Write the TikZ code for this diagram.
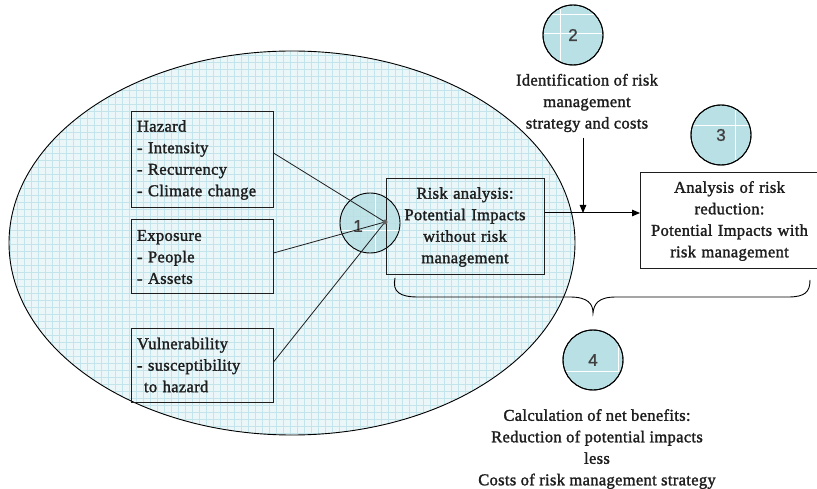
\documentclass[tikz,border=0pt]{standalone}
\usepackage{fontspec}
\setmainfont{Liberation Serif}[LetterSpace=2, FakeBold=1.6]
\newfontfamily\numfont{Liberation Sans}[FakeBold=1.2]
\usetikzlibrary{arrows.meta}
\definecolor{paper}{HTML}{EAF6F8}
\definecolor{gridline}{HTML}{C2E4EA}
\definecolor{disc}{HTML}{B9E0E5}
\definecolor{ink}{HTML}{1E1E1E}
\tikzset{
  txt/.style={font=\fontsize{16.5}{21.5}\selectfont, text=ink},
  numtxt/.style={font=\numfont\fontsize{17}{17}\selectfont, text=ink!85},
  factor/.style={txt, draw=ink, line width=1pt, minimum width=142, minimum height=74,
    text width=130, align=left, inner sep=5},
  result/.style={txt, draw=ink, line width=1pt, align=center, inner sep=3},
  stepdisc/.style={circle, draw=black, line width=0.9pt, fill=disc, minimum size=60, inner sep=0},
  link/.style={ink, line width=0.8pt},
  flow/.style={black, line width=1pt, -{Triangle[length=8pt,width=6.5pt]}},
}
\begin{document}
\begin{tikzpicture}[x=1pt,y=-1pt]
\useasboundingbox (0,0) rectangle (817,489);
\fill[white] (0,0) rectangle (817,489);

% squared background inside the ellipse
\begin{scope}
  \clip (292,243) ellipse [x radius=283, y radius=192];
  \fill[paper] (0,40) rectangle (600,450);
  \foreach \gx in {3,10,...,598} \draw[gridline, line width=0.5pt] (\gx,45) -- (\gx,440);
  \foreach \gy in {48,55,...,440} \draw[gridline, line width=0.5pt] (5,\gy) -- (580,\gy);
\end{scope}
\draw[black, line width=0.9pt] (292,243) ellipse [x radius=283, y radius=192];

% step 1 disc, partly behind the analysis box
\node[stepdisc, fill opacity=0.85] (s1) at (370,223) {};
\begin{scope}
  \clip (s1) circle (29.5);
  \draw[white, line width=0.6pt] (375,190) -- (375,260) (335,230) -- (405,230);
\end{scope}
\node[numtxt] (n1) at (358,226) {1};

% factor boxes
\node[factor, minimum height=96] (haz) at (202,160)
  {Hazard\\- Intensity\\- Recurrency\\- Climate change};
\node[factor] (exp) at (202,257) {Exposure\\- People\\- Assets};
\node[factor] (vul) at (202,365) {Vulnerability\\- susceptibility\\\hspace*{7pt}to hazard};

% analysis box without risk management
\node[result, minimum width=156, minimum height=96, text width=152] (ra) at (465,227)
  {Risk analysis:\\Potential Impacts\\without risk\\management};

% connectors meeting in step 1
\coordinate (meet) at (385,222);
\draw[link] (haz.east |- 0,153) -- (meet);
\draw[link] (exp.east |- 0,253) -- (meet);
\draw[link] (vul.east |- 0,362) -- (meet);
\fill[ink!70] (meet) circle (2.5);

% step 2, 3, 4 discs with their faint inner lines
\node[stepdisc] (s2) at (573,35) {};
\node[stepdisc] (s3) at (721,135) {};
\node[stepdisc] (s4) at (593,360) {};
\begin{scope}
  \clip (s2) circle (29);
  \draw[white, line width=0.6pt] (560,0) -- (560,70) (540,33) -- (610,33) (540,14) -- (610,14);
\end{scope}
\begin{scope}
  \clip (s3) circle (29);
  \draw[white, line width=0.6pt] (735,100) -- (735,170) (690,125) -- (760,125);
\end{scope}
\begin{scope}
  \clip (s4) circle (29);
  \draw[white, line width=0.6pt] (560,371) -- (618,371) -- (618,320);
\end{scope}
\foreach \d in {s2,s3,s4} \draw[black, line width=0.9pt] (\d) circle (30);
\node[numtxt] at (s2) {2};
\node[numtxt] at (s3) {3};
\node[numtxt] at (s4) {4};

% labels of step 2 and step 4
\node[txt, align=center] (t2) at (587,103)
  {Identification of risk\\management\\strategy and costs};
\node[txt, align=center] (t4) at (597,449)
  {Calculation of net benefits:\\Reduction of potential impacts\\less\\Costs of risk management strategy};

% analysis box with risk management
\node[result, fill=white, minimum width=173, minimum height=96, text width=172] (rr) at (729.5,221)
  {Analysis of risk\\reduction:\\Potential Impacts with\\risk management};

% flow between the analyses
\coordinate (join) at (583,213);
\draw[flow] (ra.east |- join) -- (rr.west |- join);
\draw[flow] (t2.south -| join) ++(0,2) -- (join);

% brace over both analyses
\coordinate (bl) at (395,278);
\coordinate (bt) at (593,313);
\coordinate (br) at (810,280);
\draw[black, line width=0.9pt] (bl) .. controls (392,292) and (400,297) .. (418,297)
  -- (570,297) .. controls (588,297) and (593,304) .. (bt)
  .. controls (594,304) and (598,297) .. (616,297)
  -- (788,297) .. controls (805,297) and (810,292) .. (br);
\end{tikzpicture}
\end{document}
